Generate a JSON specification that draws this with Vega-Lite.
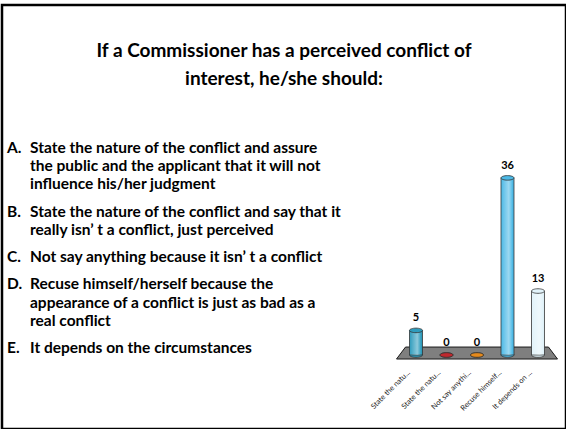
{
  "$schema": "https://vega.github.io/schema/vega-lite/v6.json",
  "autosize": "none",
  "padding": {"left": 2, "top": 5, "right": 0, "bottom": 0},
  "width": 564,
  "height": 424,
  "background": "white",
  "config": {"view": {"stroke": "#000000", "strokeWidth": 2.5}, "font": "Lato"},
  "title": {
    "text": ["If a Commissioner has a perceived conflict of", "interest, he/she should:"],
    "font": "Lato",
    "fontSize": 19,
    "fontWeight": "bold",
    "color": "#000000",
    "anchor": "middle",
    "baseline": "top",
    "offset": -84,
    "lineHeight": 28
  },
  "datasets": {
    "items": [
      {"letter": "A.", "line": 0},
      {"letter": "B.", "line": 3.5},
      {"letter": "C.", "line": 6},
      {"letter": "D.", "line": 7.5},
      {"letter": "E.", "line": 11}
    ],
    "lines": [
      {"line": 0, "text": "State the nature of the conflict and assure"},
      {"line": 1, "text": "the public and the applicant that it will not"},
      {"line": 2, "text": "influence his/her judgment"},
      {"line": 3.5, "text": "State the nature of the conflict and say that it"},
      {"line": 4.5, "text": "really isn’ t a conflict, just perceived"},
      {"line": 6, "text": "Not say anything because it isn’ t a conflict"},
      {"line": 7.5, "text": "Recuse himself/herself because the"},
      {"line": 8.5, "text": "appearance of a conflict is just as bad as a"},
      {"line": 9.5, "text": "real conflict"},
      {"line": 11, "text": "It depends on the circumstances"}
    ],
    "votes": [
      {"option": "A", "votes": 5},
      {"option": "B", "votes": 0},
      {"option": "C", "votes": 0},
      {"option": "D", "votes": 36},
      {"option": "E", "votes": 13}
    ]
  },
  "layer": [
    {
      "layer": [
        {
          "data": {"name": "items"},
          "mark": {"type": "text", "align": "left", "baseline": "middle", "font": "Lato", "fontSize": 15.5, "fontWeight": "bold", "color": "#000000"},
          "encoding": {
            "x": {"value": 5},
            "y": {"field": "line", "type": "quantitative", "scale": {"domain": [-7.857, 15.44], "reverse": true, "nice": false, "zero": false}, "axis": null},
            "text": {"field": "letter"}
          }
        },
        {
          "data": {"name": "lines"},
          "mark": {"type": "text", "align": "left", "baseline": "middle", "font": "Lato", "fontSize": 15.5, "fontWeight": "bold", "color": "#000000"},
          "encoding": {
            "x": {"value": 28},
            "y": {"field": "line", "type": "quantitative", "scale": {"domain": [-7.857, 15.44], "reverse": true, "nice": false, "zero": false}, "axis": null},
            "text": {"field": "text"}
          }
        }
      ]
    },
    {
      "data": {"name": "votes"},
      "encoding": {
        "x": {
          "field": "option",
          "type": "nominal",
          "sort": null,
          "scale": {"type": "band", "domain": ["A", "B", "C", "D", "E"], "range": [398.75, 551.25], "paddingInner": 0.574, "paddingOuter": 0.287},
          "axis": {
            "title": null,
            "domain": false,
            "ticks": false,
            "grid": false,
            "labelAngle": -45,
            "labelAlign": "right",
            "labelBaseline": "middle",
            "labelFont": "Lato",
            "labelFontSize": 7.5,
            "labelColor": "#222222",
            "labelPadding": 2,
            "labelOffset": -7,
            "labelOverlap": false,
            "labelBound": false,
            "labelFlush": false,
            "offset": -60,
            "labelExpr": "datum.value == 'A' ? 'State the natu...' : datum.value == 'B' ? 'State the natu...' : datum.value == 'C' ? 'Not say anythi...' : datum.value == 'D' ? 'Recuse himself...' : 'It depends on ...'"
          }
        },
        "y": {"field": "votes", "type": "quantitative", "scale": {"domain": [-15.04, 71.14], "nice": false, "zero": false}, "axis": null},
        "color": {
          "field": "option",
          "type": "nominal",
          "scale": {"domain": ["A", "B", "C", "D", "E"], "range": ["#2e9cbd", "#c0282d", "#e68a1c", "#4cb9e6", "#e2f3fa"]},
          "legend": null
        }
      },
      "layer": [
        {
          "transform": [{"filter": "datum.option == 'C'"}],
          "mark": {"type": "point", "shape": "M-0.888,-0.099L0.888,-0.099L1,0.05L-1,0.05Z", "size": 25921, "filled": true, "opacity": 1, "stroke": "#1a1a1a", "strokeWidth": 1},
          "encoding": {"y": {"datum": 0}, "color": {"value": "#7f7f7f"}}
        },
        {
          "mark": {"type": "point", "shape": "M-1,0A1,0.35,0,1,1,1,0A1,0.35,0,1,1,-1,0Z", "size": 169, "filled": true, "opacity": 1, "stroke": "#333333", "strokeWidth": 0.8},
          "encoding": {"y": {"datum": 0}}
        },
        {
          "mark": {"type": "bar", "stroke": "#333333", "strokeWidth": 0.8},
          "encoding": {"y2": {"datum": 0}}
        },
        {
          "mark": {
            "type": "bar",
            "fill": {"gradient": "linear", "x1": 0, "x2": 1, "y1": 0, "y2": 0, "stops": [
              {"offset": 0, "color": "rgba(255,255,255,0)"},
              {"offset": 0.6, "color": "rgba(255,255,255,0.45)"},
              {"offset": 0.9, "color": "rgba(255,255,255,0)"}
            ]},
            "strokeWidth": 0
          },
          "encoding": {"y2": {"datum": 0}, "color": {"value": null}}
        },
        {
          "mark": {"type": "point", "shape": "M-1,0A1,0.35,0,1,1,1,0A1,0.35,0,1,1,-1,0Z", "size": 169, "filled": true, "opacity": 1, "stroke": "#333333", "strokeWidth": 0.8}
        },
        {
          "mark": {"type": "text", "baseline": "middle", "dy": -12, "font": "Lato", "fontSize": 11, "fontWeight": "bold", "color": "#000000"},
          "encoding": {"text": {"field": "votes", "type": "quantitative"}, "color": {"value": "#000000"}}
        }
      ]
    }
  ],
  "resolve": {"scale": {"x": "independent", "y": "independent"}}
}
